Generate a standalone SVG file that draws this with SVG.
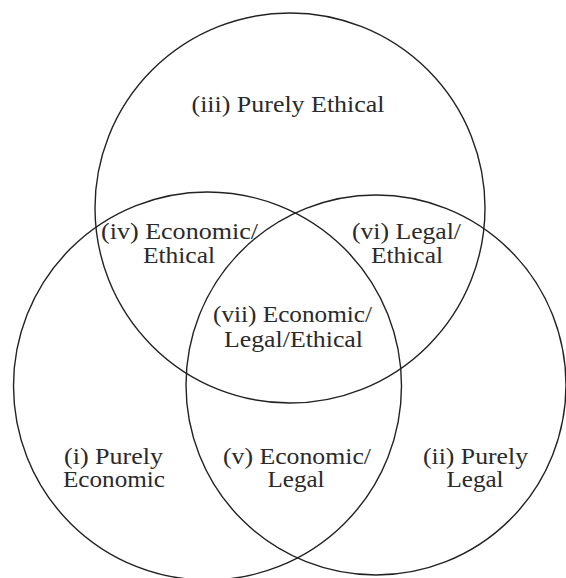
<svg xmlns="http://www.w3.org/2000/svg" width="566" height="578" viewBox="0 0 566 578">
<style>
.c{fill:none;stroke:#222;stroke-width:1.4}
.t{font-family:'Liberation Serif','DejaVu Serif',serif;font-size:23px;fill:#2a2a2a;text-anchor:middle}
</style>
<rect width="566" height="578" fill="#fff"/>
<g id="circles">
<circle id="ethical" class="c" cx="290" cy="208" r="195"/>
<circle id="economic" class="c" cx="207.5" cy="386" r="194"/>
<circle id="legal" class="c" cx="376" cy="385" r="190"/>
</g>
<g class="t" font-family="Liberation Serif, DejaVu Serif, serif" lengthAdjust="spacingAndGlyphs">
<g id="r3"><text x="288" y="112" textLength="193" lengthAdjust="spacingAndGlyphs">(iii) Purely Ethical</text></g>
<g id="r4"><text x="179.5" y="239" textLength="157" lengthAdjust="spacingAndGlyphs">(iv) Economic/</text><text x="179" y="263" textLength="72" lengthAdjust="spacingAndGlyphs">Ethical</text></g>
<g id="r6"><text x="406.5" y="239" textLength="109" lengthAdjust="spacingAndGlyphs">(vi) Legal/</text><text x="407" y="263" textLength="72" lengthAdjust="spacingAndGlyphs">Ethical</text></g>
<g id="r7"><text x="292.5" y="322" textLength="159" lengthAdjust="spacingAndGlyphs">(vii) Economic/</text><text x="293.5" y="347" textLength="139" lengthAdjust="spacingAndGlyphs">Legal/Ethical</text></g>
<g id="r1"><text x="113.5" y="464" textLength="99" lengthAdjust="spacingAndGlyphs">(i) Purely</text><text x="114" y="487" textLength="102" lengthAdjust="spacingAndGlyphs">Economic</text></g>
<g id="r5"><text x="297" y="464" textLength="148" lengthAdjust="spacingAndGlyphs">(v) Economic/</text><text x="296" y="487" textLength="57" lengthAdjust="spacingAndGlyphs">Legal</text></g>
<g id="r2"><text x="475.5" y="464" textLength="105" lengthAdjust="spacingAndGlyphs">(ii) Purely</text><text x="475" y="487" textLength="57" lengthAdjust="spacingAndGlyphs">Legal</text></g>
</g>
</svg>
